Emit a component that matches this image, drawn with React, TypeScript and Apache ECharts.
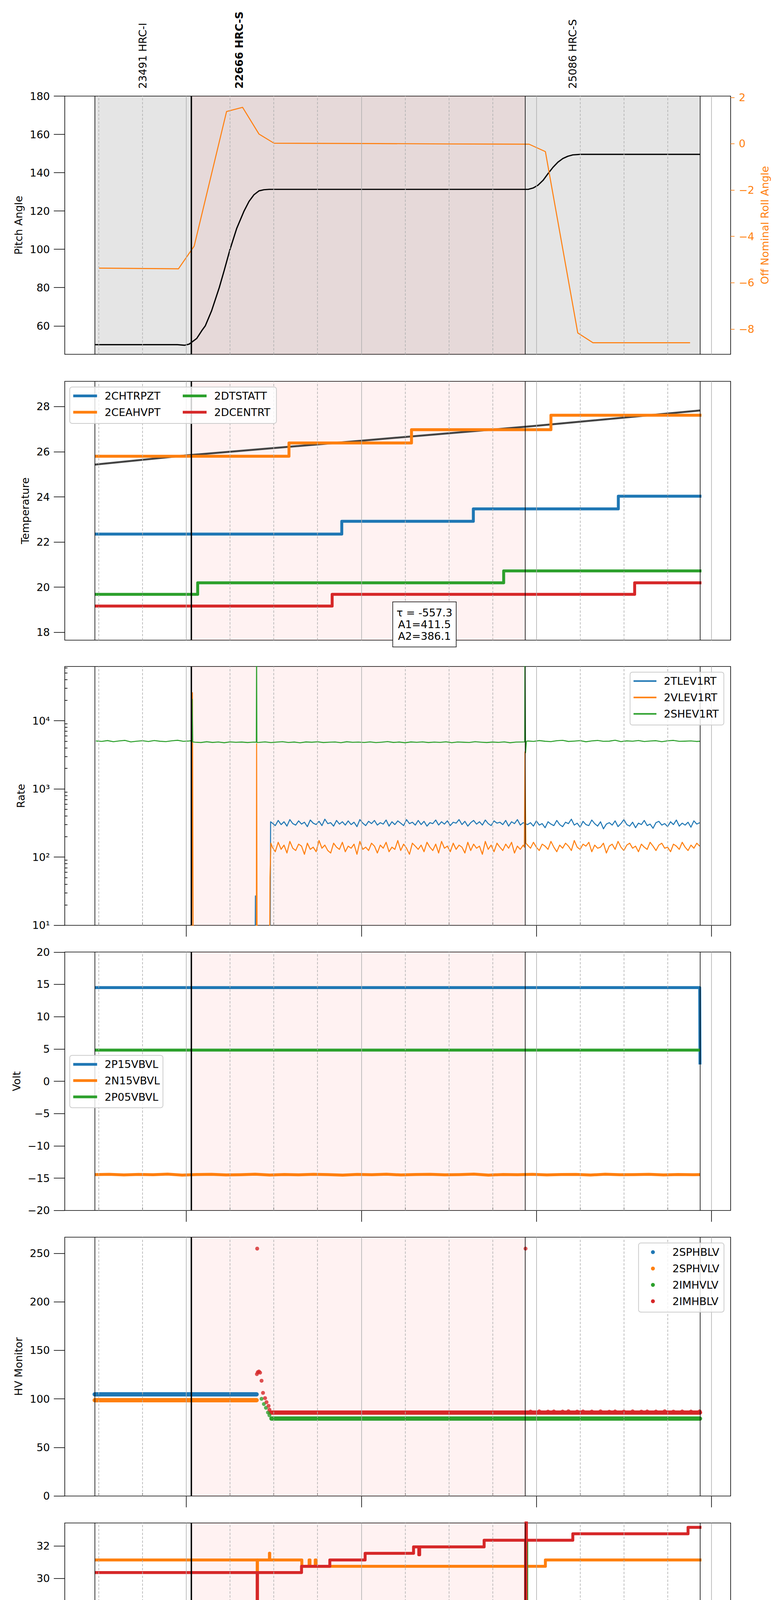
import React, { useEffect, useRef } from "react";
import * as echarts from "echarts";

const FONT = "DejaVu Sans";
const BLUE = "#1f77b4";
const ORANGE = "#ff7f0e";
const GREEN = "#2ca02c";
const RED = "#d62728";

// ---------- time axis (minutes from 2021-08-07 20:00) ----------
const X_MIN = -41.67;
const X_MAX = 186.6;
const HOUR_TICKS = [0, 60, 120, 180];
const QUARTER_TICKS = [-30, -15, 15, 30, 45, 75, 90, 105, 135, 150, 165];
const X_LABEL = "2021-08-07 (219)";

// ---------- observations ----------
const OBS_LABELS = ["23491 HRC-I", "22666 HRC-S", "25086 HRC-S"];
const OBS_START = [-31.4, 1.7, 116.1];
const OBS_END = [1.7, 116.1, 176.1];
const OBS_LABEL_AT = [-14.9, 18.1, 132.5];
const OBS_HIGHLIGHT = 1;

// ---------- layout ----------
const GRID_LEFT = 165.8;
const GRID_W = 1705.2;
const GRID_TOP = [246, 976.3, 1706.3, 2437.3, 3167.3, 3898.7, 4629.1];
const GRID_H = [661, 662.5, 662.5, 661.5, 662.4, 661, 661.7];

// ---------- panel 1: pitch / roll ----------
const PITCH: [number, number][] = [
  [-31.4, 50.2], [-3.0, 50.2], [-0.5, 49.9], [1.0, 50.5], [3.6, 53.5], [5.3, 57.5], [6.5, 60.0],
  [8.7, 68.0], [11.3, 80.0], [13.0, 89.0], [15.0, 100.0], [17.3, 111.0], [19.8, 120.0], [21.5, 125.0],
  [23.2, 128.5], [24.9, 130.5], [26.6, 131.1], [28.4, 131.3], [117.2, 131.3], [118.9, 132.0],
  [120.6, 133.5], [122.3, 136.0], [124.0, 139.5], [125.7, 142.8], [127.4, 145.5], [129.1, 147.4],
  [130.8, 148.6], [132.5, 149.3], [135.1, 149.6], [176.1, 149.6],
];
const ROLL: [number, number][] = [
  [-29.9, -5.37], [-2.7, -5.40], [2.7, -4.42], [13.8, 1.39], [19.3, 1.57], [24.9, 0.42], [30.1, 0.02],
  [60, 0.01], [90, -0.01], [117.5, -0.02], [123.1, -0.34], [134.2, -8.17], [139.4, -8.59], [172.7, -8.59],
];

// ---------- panel 2: temperature ----------
const CHTRPZT: [number, number][] = [[-31.4, 22.35], [53.3, 22.92], [98.4, 23.47], [148.1, 24.03], [176.6, 24.03]];
const CEAHVPT: [number, number][] = [[-31.4, 25.8], [35.2, 26.39], [77.2, 26.98], [125.0, 27.62], [176.6, 27.62]];
const DTSTATT: [number, number][] = [[-31.4, 19.68], [3.9, 20.19], [108.8, 20.72], [176.6, 20.72]];
const DCENTRT: [number, number][] = [[-31.4, 19.16], [50.0, 19.68], [153.7, 20.19], [176.6, 20.19]];
const TEMP_FIT: [number, number][] = [[-31.4, 25.43], [0, 25.84], [60, 26.49], [120, 27.15], [176.1, 27.83]];
const FIT_TEXT = "τ = -557.3\nA1=411.5\nA2=386.1";

// ---------- panel 3: rates ----------
const SHEV_PRE = [5050, 4980, 5120, 4930, 5060, 5150, 4900, 5010, 5090, 4960, 5130, 5000, 4940, 5080, 5170, 4990, 5050];
const SHEV_A = [4850, 4790, 4920, 4810, 4880, 4760, 4900, 4830, 4870, 4790, 4860];
const SHEV_B = [4820, 4900, 4780, 4860, 4930, 4800, 4870, 4750, 4890, 4840, 4910, 4790, 4850, 4880, 4770, 4920,
  4830, 4860, 4800, 4900, 4780, 4850, 4940, 4810, 4870, 4760, 4890, 4830, 4900, 4790, 4860, 4820, 4910, 4770,
  4880, 4840, 4800, 4930, 4850, 4790, 4870, 4820, 4900, 4760, 4860, 4880];
const SHEV_POST = [5050, 4980, 5120, 5000, 4940, 5090, 5160, 4970, 5030, 5110, 4920, 5060, 5140, 4990, 5020,
  5180, 4950, 5070, 5010, 5130, 4960, 5040, 5100, 4930, 5080, 5150, 4990, 5020, 5060, 4970];
const TLEV_IN = [315, 290, 345, 300, 330, 285, 355, 310, 295, 340, 305, 325, 280, 350, 315, 300, 335, 290, 360, 310,
  320, 285, 345, 305, 330, 295, 340, 300, 325, 280, 355, 315, 290, 335, 310, 345, 295, 320, 305, 350,
  285, 330, 300, 340, 315, 290, 355, 310, 325, 295, 345, 300, 335, 285, 320, 310, 350, 295, 330, 305,
  340, 290, 325, 315, 355, 300, 335, 285, 320, 345, 305, 330, 295, 350, 310, 290, 340, 315, 325, 300,
  345, 285, 330, 310, 355, 295, 320];
const TLEV_POST = [300, 320, 285, 340, 295, 310, 270, 330, 305, 290, 345, 300, 280, 325, 310, 360, 295, 315, 275, 335,
  300, 290, 350, 310, 285, 330, 260, 305, 320, 295, 340, 280, 310, 355, 300, 285, 325, 270, 315, 300,
  345, 290, 305, 265, 320, 335, 295, 310, 280, 330, 300, 350, 285, 315, 295, 325, 275, 340, 305, 320];
const VLEV_IN = [140, 120, 165, 130, 150, 115, 170, 135, 125, 155, 145, 110, 160, 130, 140, 120, 175, 135, 150, 125,
  115, 160, 140, 130, 165, 120, 145, 135, 155, 110, 170, 130, 140, 125, 160, 145, 115, 150, 135, 165,
  120, 140, 130, 175, 125, 155, 135, 110, 160, 145, 130, 150, 120, 165, 140, 125, 155, 115, 170, 135,
  145, 120, 160, 130, 150, 140, 115, 165, 125, 155, 135, 145, 110, 170, 130, 150, 120, 160, 140, 125,
  155, 135, 165, 115, 145, 130, 150];
const VLEV_POST = [150, 135, 165, 140, 125, 155, 145, 130, 170, 140, 120, 150, 135, 160, 145, 125, 175, 140, 130, 155,
  145, 165, 120, 150, 135, 140, 160, 115, 145, 155, 130, 170, 140, 125, 150, 160, 135, 145, 120, 155,
  140, 130, 165, 145, 125, 150, 160, 135, 140, 120, 155, 145, 130, 165, 140, 125, 150, 135, 160, 145];
const SHEV_SPIKE1: [number, number][] = [[1.8, 5100], [2.0, 20600], [2.2, 4900]];
const SHEV_SPIKE2: [number, number][] = [[24.0, 4850], [24.1, 100000], [24.2, 4800]];
const SHEV_SPIKE3: [number, number][] = [[116.0, 4900], [116.1, 100000], [116.3, 3400], [116.6, 5000]];
const TLEV_START: [number, number][] = [[23.5, 1], [23.7, 27], [23.9, 1], [28.7, 1], [28.9, 330]];
const VLEV_START: [number, number][] = [[1.8, 1], [2.1, 25800], [2.4, 1], [24.0, 1], [24.1, 4600], [24.3, 1], [28.5, 1], [28.7, 50], [29.0, 160]];
const VLEV_SPIKE: [number, number][] = [[115.9, 140], [116.1, 3500], [116.4, 160]];
const RATE_MAX = 62400;
const RATE_MINOR = [20, 30, 40, 50, 60, 70, 80, 90, 200, 300, 400, 500, 600, 700, 800, 900,
  2000, 3000, 4000, 5000, 6000, 7000, 8000, 9000, 20000, 30000, 40000, 50000, 60000];

// ---------- panel 4: voltages ----------
const P15VBVL: [number, number][] = [[-31.4, 14.5], [176.0, 14.5], [176.1, 2.6]];
const N15VBVL_VALUES = [-14.45, -14.40, -14.50, -14.42, -14.47, -14.38, -14.52, -14.44, -14.41, -14.49,
  -14.46, -14.39, -14.51, -14.43, -14.48, -14.40, -14.45, -14.53, -14.42, -14.47,
  -14.39, -14.50, -14.44, -14.41, -14.48, -14.45, -14.38, -14.52, -14.43, -14.46,
  -14.40, -14.49, -14.44, -14.42, -14.51, -14.39, -14.47, -14.45, -14.41, -14.50, -14.43, -14.46];
const P05VBVL: [number, number][] = [[-31.4, 4.82], [176.1, 4.82]];

// ---------- panel 5: HV monitor ----------
const SPHBLV_RUN: [number, number][] = [[-31.4, 104.7], [24.1, 104.7]];
const SPHVLV_RUN: [number, number][] = [[-31.4, 98.7], [24.1, 98.7]];
const IMHVLV_PTS: [number, number][] = [[25.8, 100.1], [26.6, 94.7], [27.3, 90.8], [28.0, 86.0], [28.5, 83.1]];
const IMHVLV_RUN: [number, number][] = [[29.2, 79.7], [176.1, 79.7]];
const IMHBLV_PTS: [number, number][] = [[24.3, 254.8], [24.2, 125.5], [24.5, 127.5], [24.9, 128.2], [25.3, 127.0],
  [25.8, 118.7], [26.3, 106.2], [27.0, 100.8], [27.5, 96.6], [28.2, 92.8], [28.5, 88.9], [116.3, 254.8],
  [118, 87.0], [121, 87.2], [124, 86.9], [126, 87.1], [129, 87.0], [131, 87.3], [134, 86.9], [136, 87.1],
  [139, 87.0], [142, 87.2], [145, 86.8], [147, 87.1], [150, 87.0], [153, 87.2], [156, 86.9], [158, 87.1],
  [161, 87.0], [164, 87.3], [167, 86.9], [170, 87.1], [173, 87.0], [176, 87.2]];
const IMHBLV_RUN: [number, number][] = [[28.8, 85.9], [176.1, 85.9]];

// ---------- panel 6: detector temperatures ----------
const SPINATM: [number, number][] = [[-31.4, 18.95], [114.1, 19.65], [114.4, 18.95], [114.7, 19.65], [116.6, 20.3], [116.8, 19.65], [176.6, 19.65]];
const SPHVATM: [number, number][] = [[-31.4, 31.13], [24.3, 10], [24.4, 31.13], [28.5, 31.55], [28.6, 31.13], [39.6, 30.74],
  [42.1, 31.13], [42.4, 30.74], [44.2, 31.13], [44.5, 30.74], [123.1, 31.13], [176.6, 31.13]];
const IMINATM: [number, number][] = [[-31.4, 19.65], [2.4, 20.34], [4.4, 19.65], [4.7, 20.34], [116.5, 32.3], [116.7, 20.34], [155.3, 21.0], [176.6, 21.0]];
const IMHVATM: [number, number][] = [[-31.4, 30.35], [24.3, 10], [24.4, 30.35], [39.5, 30.74], [49.2, 31.13], [61.3, 31.54],
  [77.9, 31.94], [79.7, 31.45], [80.0, 31.94], [102.1, 32.35], [116.3, 10], [116.45, 45], [116.6, 32.35],
  [132.5, 32.75], [172.0, 33.15], [176.6, 33.15]];

// ---------- panel 7: FEA temperatures ----------
const FHTRMZT: [number, number][] = [[-31.4, 22.36], [-21.7, 22.91], [81.5, 23.47], [145.9, 24.04], [176.6, 24.04]];
const FRADPYT: [number, number][] = [[-31.4, 17.6], [-31.1, 18.15], [10.8, 17.65], [33.6, 18.15], [58.1, 18.65], [103.0, 19.15],
  [142.4, 19.68], [169.6, 20.2], [176.6, 20.2]];
const FEPRATM: [number, number][] = [[-31.4, 23.88], [-26.5, 24.63], [24.2, 22.72], [24.4, 24.63], [116.2, 27], [116.35, 23.35],
  [116.5, 24.63], [122.6, 25.39], [127.2, 24.6], [127.5, 25.39], [176.6, 25.39]];
const FE00ATM: [number, number][] = [[-31.4, 22.65], [24.3, 10], [24.4, 22.65], [49.3, 23.32], [49.5, 22.65], [60.8, 22.98],
  [61.4, 22.65], [61.7, 22.98], [62.4, 22.65], [62.7, 22.98], [69.2, 22.65], [69.4, 22.98], [70.6, 22.65],
  [70.8, 22.98], [73.2, 22.65], [73.4, 22.98], [86.3, 22.3], [86.5, 22.98], [101.7, 22.0], [101.9, 22.98],
  [105.6, 23.98], [105.8, 22.98], [106.1, 23.32], [106.3, 22.98], [110.0, 23.32], [110.8, 22.98], [111.1, 23.32],
  [112.3, 22.98], [112.6, 23.32], [116.2, 10], [116.5, 23.32], [153.4, 22.95], [153.6, 23.32], [154.7, 23.62],
  [176.6, 23.62]];

// ---------- helpers ----------
const SUP: Record<number, string> = { 1: "\u00b9", 2: "\u00b2", 3: "\u00b3", 4: "\u2074" };
const minus = (v: number) => String(v).replace("-", "\u2212");
const seq = (start: number, step: number, values: number[]): [number, number][] =>
  values.map((v, i) => [start + i * step, v]);

function buildOption() {
  const xAxes: any[] = [];
  const yAxes: any[] = [];
  const series: any[] = [];
  const legends: any[] = [];

  const grids = GRID_TOP.map((top, i) => ({
    left: GRID_LEFT, top, width: GRID_W, height: GRID_H[i],
    show: true, borderColor: "#000", borderWidth: 1.6, backgroundColor: "rgba(0,0,0,0)",
  }));

  const textBase = { fontFamily: FONT, color: "#000" };

  function addX(g: number, ticks: boolean, labels: boolean) {
    const major = xAxes.length;
    xAxes.push({
      type: "value", gridIndex: g, min: X_MIN, max: X_MAX, position: "bottom",
      axisLine: { show: false, onZero: false }, splitLine: { show: false },
      axisTick: { show: ticks, customValues: HOUR_TICKS, length: 29, inside: false, lineStyle: { color: "#000", width: 1.6 } },
      axisLabel: {
        show: labels, customValues: HOUR_TICKS, margin: 34, fontSize: 27, lineHeight: 32, ...textBase,
        formatter: (v: number) => `${20 + Math.round(v / 60)}h`,
      },
      name: labels ? X_LABEL : "", nameLocation: "middle", nameGap: 67,
      nameTextStyle: { fontSize: 33, lineHeight: 40, ...textBase },
    });
    if (ticks) {
      xAxes.push({
        type: "value", gridIndex: g, min: X_MIN, max: X_MAX, position: "bottom",
        axisLine: { show: false, onZero: false }, splitLine: { show: false },
        axisTick: { show: true, customValues: QUARTER_TICKS, length: 7, inside: true, lineStyle: { color: "#000", width: 1.6 } },
        axisLabel: {
          show: labels, customValues: QUARTER_TICKS, margin: 6, fontSize: 17, lineHeight: 20, ...textBase,
          formatter: (v: number) => String(((v % 60) + 60) % 60),
        },
      });
    }
    return major;
  }

  function addY(g: number, min: number, max: number, ticks: number[], name: string, nameGap: number, extra: any = {}) {
    const idx = yAxes.length;
    yAxes.push({
      type: "value", gridIndex: g, min, max, position: "left",
      axisLine: { show: false, onZero: false }, splitLine: { show: false },
      axisTick: { show: true, customValues: ticks, length: 28, lineStyle: { color: "#000", width: 1.6 } },
      axisLabel: { show: true, customValues: ticks, margin: 38, fontSize: 27, ...textBase, formatter: minus },
      name, nameLocation: "middle", nameGap, nameRotate: 90,
      nameTextStyle: { fontSize: 27, lineHeight: 32, ...textBase },
      ...extra,
    });
    return idx;
  }

  const gridTicks = [...HOUR_TICKS, ...QUARTER_TICKS].sort((a, b) => a - b);
  const bounds = Array.from(new Set([...OBS_START, ...OBS_END]));

  function addBackground(panel: number, xi: number, yi: number) {
    const areas: any[] = [];
    if (panel === 0) {
      OBS_START.forEach((s, k) => areas.push([{ xAxis: s, itemStyle: { color: "rgba(0,0,0,0.1)" } }, { xAxis: OBS_END[k] }]));
    }
    areas.push([{ xAxis: OBS_START[OBS_HIGHLIGHT], itemStyle: { color: "rgba(255,0,0,0.05)" } }, { xAxis: OBS_END[OBS_HIGHLIGHT] }]);
    const lines: any[] = gridTicks.map((t) => ({
      xAxis: t, lineStyle: { color: "#b0b0b0", width: 1.6, type: t % 60 === 0 ? "solid" : [6, 4] },
    }));
    bounds.forEach((t) => lines.push({
      xAxis: t, lineStyle: { color: "#000", width: t === OBS_START[OBS_HIGHLIGHT] ? 3.6 : 1.6, type: "solid" },
    }));
    series.push({
      type: "line", xAxisIndex: xi, yAxisIndex: yi, data: [], z: 0, silent: true,
      markArea: { silent: true, data: areas },
    });
    series.push({
      type: "line", xAxisIndex: xi, yAxisIndex: yi, data: [], z: 1, silent: true,
      markLine: { silent: true, symbol: ["none", "none"], label: { show: false }, data: lines },
    });
  }

  function line(name: string, data: any[], xi: number, yi: number, color: string, width: number, step = false, extra: any = {}) {
    series.push({
      type: "line", name, data, xAxisIndex: xi, yAxisIndex: yi, showSymbol: false, symbol: "none",
      step: step ? "end" : false, z: 3, silent: true,
      lineStyle: { color, width, join: "round" }, itemStyle: { color },
      emphasis: { disabled: true }, ...extra,
    });
  }

  function scatter(name: string, data: any[], xi: number, yi: number, color: string) {
    series.push({
      type: "scatter", name, data, xAxisIndex: xi, yAxisIndex: yi, symbolSize: 10, z: 4, silent: true,
      itemStyle: { color }, emphasis: { disabled: true },
    });
  }

  function legend(o: { left: number; top: number; names: string[]; itemWidth: number; itemHeight: number; itemGap: number;
    icon: string; pad: number[]; tp: number; box: boolean }) {
    legends.push({
      show: true, orient: "vertical", left: o.left, top: o.top, itemWidth: o.itemWidth, itemHeight: o.itemHeight,
      itemGap: o.itemGap, icon: o.icon, padding: o.pad, selectedMode: false, z: 20,
      backgroundColor: o.box ? "rgba(255,255,255,0.8)" : "transparent",
      borderColor: o.box ? "#cccccc" : "transparent", borderWidth: o.box ? 2 : 0, borderRadius: 6,
      textStyle: { fontSize: 27, lineHeight: 34, fontFamily: FONT, color: "#000", padding: [0, 0, 0, o.tp] },
      data: o.names,
    });
  }

  // ---- panel 1 ----
  const x0 = addX(0, false, false);
  const y0 = addY(0, 45.17, 180, [60, 80, 100, 120, 140, 160, 180], "Pitch Angle", 102.8);
  const y0r = yAxes.length;
  yAxes.push({
    type: "value", gridIndex: 0, min: -9.09, max: 2.056, position: "right",
    axisLine: { show: false, onZero: false }, splitLine: { show: false },
    axisTick: { show: true, customValues: [-8, -6, -4, -2, 0, 2], length: 10, lineStyle: { color: ORANGE, width: 1.6 } },
    axisLabel: { show: true, customValues: [-8, -6, -4, -2, 0, 2], margin: 21, fontSize: 27, fontFamily: FONT, color: ORANGE, formatter: minus },
    name: "Off Nominal Roll Angle", nameLocation: "middle", nameGap: 66, nameRotate: 90,
    nameTextStyle: { fontSize: 27, lineHeight: 32, fontFamily: FONT, color: ORANGE },
  });
  addBackground(0, x0, y0);
  line("Pitch", PITCH, x0, y0, "#000000", 3.2);
  line("Roll", ROLL, x0, y0r, ORANGE, 2.6);

  // ---- panel 2 ----
  const x1 = addX(1, false, false);
  const y1 = addY(1, 17.65, 29.12, [18, 20, 22, 24, 26, 28], "Temperature", 85.8);
  addBackground(1, x1, y1);
  line("fit", TEMP_FIT, x1, y1, "#444444", 5);
  line("2CHTRPZT", CHTRPZT, x1, y1, BLUE, 7.5, true);
  line("2CEAHVPT", CEAHVPT, x1, y1, ORANGE, 7.5, true);
  line("2DTSTATT", DTSTATT, x1, y1, GREEN, 7.5, true);
  line("2DCENTRT", DCENTRT, x1, y1, RED, 7.5, true);
  legend({ left: 187.5, top: 996.6, names: ["2CHTRPZT", "2CEAHVPT"], itemWidth: 61, itemHeight: 7, itemGap: 7.6, icon: "rect", pad: [0, 0, 0, 0], tp: 14.4, box: false });
  legend({ left: 468, top: 996.6, names: ["2DTSTATT", "2DCENTRT"], itemWidth: 61, itemHeight: 7, itemGap: 7.6, icon: "rect", pad: [0, 0, 0, 0], tp: 14.5, box: false });

  // ---- panel 3 ----
  const x2 = addX(2, true, false);
  const y2 = yAxes.length;
  yAxes.push({ type: "log", gridIndex: 2, min: 10, max: RATE_MAX, show: false, axisLine: { onZero: false }, splitLine: { show: false } });
  addY(2, 1, Math.log10(RATE_MAX), [1, 2, 3, 4], "Rate", 96.2, {
    axisLabel: { show: true, customValues: [1, 2, 3, 4], margin: 38, fontSize: 27, ...textBase, formatter: (v: number) => "10" + (SUP[v] || "") },
  });
  yAxes.push({
    type: "value", gridIndex: 2, min: 1, max: Math.log10(RATE_MAX), position: "left",
    axisLine: { show: false, onZero: false }, splitLine: { show: false }, axisLabel: { show: false },
    axisTick: { show: true, inside: true, length: 7, customValues: RATE_MINOR.map((v) => Math.log10(v)), lineStyle: { color: "#000", width: 1.6 } },
  });
  addBackground(2, x2, y2);
  line("2TLEV1RT", [...TLEV_START, ...seq(29.5, 1, TLEV_IN), [116.1, 310], ...seq(117, 1, TLEV_POST)], x2, y2, BLUE, 2.6);
  line("2VLEV1RT", [...VLEV_START, ...seq(29.5, 1, VLEV_IN), ...VLEV_SPIKE, ...seq(117, 1, VLEV_POST)], x2, y2, ORANGE, 2.6);
  line("2SHEV1RT", [...seq(-31, 2, SHEV_PRE), ...SHEV_SPIKE1, ...seq(3, 2, SHEV_A), ...SHEV_SPIKE2, ...seq(25, 2, SHEV_B),
    ...SHEV_SPIKE3, ...seq(117, 2, SHEV_POST), [176.1, 5000]], x2, y2, GREEN, 2.6);
  legend({ left: 1613.5, top: 1720.7, names: ["2TLEV1RT", "2VLEV1RT", "2SHEV1RT"], itemWidth: 58.6, itemHeight: 4, itemGap: 7.9, icon: "rect", pad: [5.9, 13, 11.7, 8.9], tp: 14, box: true });

  // ---- panel 4 ----
  const x3 = addX(3, true, false);
  const y3 = addY(3, -20, 20, [-20, -15, -10, -5, 0, 5, 10, 15, 20], "Volt", 107.8);
  addBackground(3, x3, y3);
  line("2P15VBVL", P15VBVL, x3, y3, BLUE, 7.5);
  line("2N15VBVL", [...seq(-31.4, 5, N15VBVL_VALUES), [176.1, -14.45]], x3, y3, ORANGE, 7.5);
  line("2P05VBVL", P05VBVL, x3, y3, GREEN, 7.5);
  legend({ left: 178.6, top: 2701.8, names: ["2P15VBVL", "2N15VBVL", "2P05VBVL"], itemWidth: 61.2, itemHeight: 7, itemGap: 7.65, icon: "rect", pad: [5.9, 8, 10.7, 8.9], tp: 14.2, box: true });

  // ---- panel 5 ----
  const x4 = addX(4, true, false);
  const y4 = addY(4, 0, 266.5, [0, 50, 100, 150, 200, 250], "HV Monitor", 102.8);
  addBackground(4, x4, y4);
  line("2SPHBLV", SPHBLV_RUN, x4, y4, BLUE, 11, false, { lineStyle: { color: BLUE, width: 11, cap: "round" } });
  line("2SPHVLV", SPHVLV_RUN, x4, y4, ORANGE, 11, false, { lineStyle: { color: ORANGE, width: 11, cap: "round" } });
  line("2IMHVLV", IMHVLV_RUN, x4, y4, GREEN, 11, false, { lineStyle: { color: GREEN, width: 11, cap: "round" } });
  scatter("2IMHVLV", IMHVLV_PTS, x4, y4, GREEN);
  line("2IMHBLV", IMHBLV_RUN, x4, y4, RED, 11, false, { lineStyle: { color: RED, width: 11, cap: "round" } });
  scatter("2IMHBLV", IMHBLV_PTS, x4, y4, RED);
  legend({ left: 1635.2, top: 3182.1, names: ["2SPHBLV", "2SPHVLV", "2IMHVLV", "2IMHBLV"], itemWidth: 10, itemHeight: 10, itemGap: 7.9, icon: "circle", pad: [6.4, 12, 10.8, 31.8], tp: 40, box: true });

  // ---- panel 6 ----
  const x5 = addX(5, true, false);
  const y5 = addY(5, 17.46, 33.42, [18, 20, 22, 24, 26, 28, 30, 32], "Detector Temp", 85.8);
  addBackground(5, x5, y5);
  line("2SPINATM", SPINATM, x5, y5, BLUE, 7.5, true);
  line("2SPHVATM", SPHVATM, x5, y5, ORANGE, 7.5, true);
  line("2IMINATM", IMINATM, x5, y5, GREEN, 7.5, true);
  line("2IMHVATM", IMHVATM, x5, y5, RED, 7.5, true);
  legend({ left: 1609.7, top: 4142.6, names: ["2SPINATM", "2SPHVATM", "2IMINATM", "2IMHVATM"], itemWidth: 61.3, itemHeight: 7, itemGap: 7.9, icon: "rect", pad: [4.6, 12, 11.6, 7.6], tp: 12.8, box: true });

  // ---- panel 7 ----
  const x6 = addX(6, true, true);
  const y6 = addY(6, 16.64, 26.12, [18, 20, 22, 24, 26], "FEA Temp", 85.8);
  addBackground(6, x6, y6);
  line("2FHTRMZT", FHTRMZT, x6, y6, BLUE, 7.5, true);
  line("2FRADPYT", FRADPYT, x6, y6, ORANGE, 7.5, true);
  line("2FEPRATM", FEPRATM, x6, y6, GREEN, 7.5, true);
  line("2FE00ATM", FE00ATM, x6, y6, RED, 7.5, true);
  legend({ left: 1607, top: 5101, names: ["2FHTRMZT", "2FRADPYT", "2FEPRATM", "2FE00ATM"], itemWidth: 61.2, itemHeight: 7, itemGap: 7.5, icon: "rect", pad: [6.5, 12, 11.6, 7.8], tp: 12.9, box: true });

  const graphic: any[] = [
    {
      type: "rect", z: 10, silent: true,
      shape: { x: 178.6, y: 990.7, width: 529.3, height: 93.2, r: 6 },
      style: { fill: "rgba(255,255,255,0.8)", stroke: "#cccccc", lineWidth: 2 },
    },
    {
      type: "text", z: 10, silent: true, x: 1087, y: 1598.6,
      style: {
        text: FIT_TEXT, fill: "#000", font: `27px "${FONT}"`, align: "center", verticalAlign: "middle",
        lineHeight: 30, backgroundColor: "#ffffff", borderColor: "#000000", borderWidth: 1.5, padding: [12, 9],
      },
    },
  ];

  return {
    animation: false,
    backgroundColor: "#ffffff",
    textStyle: { fontFamily: FONT },
    grid: grids,
    xAxis: xAxes,
    yAxis: yAxes,
    legend: legends,
    series,
    graphic,
  };
}

export default function App() {
  const ref = useRef<HTMLDivElement>(null);
  useEffect(() => {
    document.body.style.margin = "0";
    const chart = echarts.init(ref.current as HTMLDivElement, undefined, { renderer: "svg" });
    const option: any = buildOption();
    chart.setOption(option);
    // observation labels above the first panel, placed through the time axis
    const obsLabels = OBS_LABEL_AT.map((t, k) => {
      const px = chart.convertToPixel({ xAxisIndex: 0 }, t) as number;
      return {
        type: "text", silent: true, z: 10, x: px, y: GRID_TOP[0] - 19, rotation: Math.PI / 2,
        style: {
          text: OBS_LABELS[k], fill: "#000", align: "left", verticalAlign: "middle",
          font: `${k === OBS_HIGHLIGHT ? "bold " : ""}27px "${FONT}"`,
        },
      };
    });
    chart.setOption({ graphic: [...option.graphic, ...obsLabels] });
    return () => chart.dispose();
  }, []);
  return <div ref={ref} style={{ position: "absolute", left: 0, top: 0, width: 2000, height: 5400 }} />;
}
